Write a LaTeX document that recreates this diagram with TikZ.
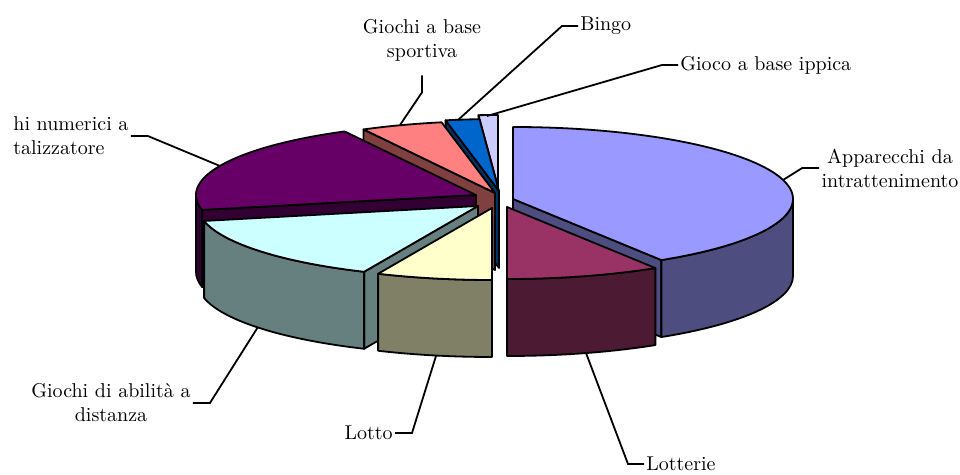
\documentclass[tikz,border=0pt]{standalone}
\usepackage{fontspec}
\usepackage{xcolor}
\definecolor{apptop}{HTML}{9999FF}
\definecolor{appside}{HTML}{4D4D80}
\definecolor{lotttop}{HTML}{993366}
\definecolor{lottside}{HTML}{4D1A33}
\definecolor{lottotop}{HTML}{FFFFCC}
\definecolor{lottoside}{HTML}{808066}
\definecolor{abiltop}{HTML}{CCFFFF}
\definecolor{abilside}{HTML}{668080}
\definecolor{numtop}{HTML}{660066}
\definecolor{numside}{HTML}{330033}
\definecolor{sporttop}{HTML}{FF8080}
\definecolor{sportside}{HTML}{804040}
\definecolor{bingotop}{HTML}{0066CC}
\definecolor{bingoside}{HTML}{003366}
\definecolor{ippicatop}{HTML}{CCCCFF}
\definecolor{ippicaside}{HTML}{666680}
% faces of a slice: centre x, centre y, angles, colour
\newcommand{\topface}[5]{%
  \filldraw[slice, fill=#5, shift={(#1,-#2)}] (0,0) -- (#3:280 and 72)
    arc[start angle=#3, end angle=#4, x radius=280, y radius=72] -- cycle;}
\newcommand{\rimface}[5]{%
  \filldraw[slice, fill=#5, shift={(#1,-#2)}] (#3:280 and 72)
    arc[start angle=#3, end angle=#4, x radius=280, y radius=72] -- ++(0,-77)
    arc[start angle=#4, end angle=#3, x radius=280, y radius=72] -- cycle;}
\newcommand{\cutface}[4]{%
  \filldraw[slice, fill=#4, shift={(#1,-#2)}] (0,0) -- (#3:280 and 72) -- ++(0,-77) -- (0,-77) -- cycle;}

\begin{document}
\begin{tikzpicture}[x=0.5pt, y=0.5pt,
    slice/.style={draw=black, line width=0.9pt, line join=round},
    lbl/.style={font=\fontsize{10}{12}\selectfont, inner sep=1pt, align=center},
    leader/.style={line width=0.9pt}]
			\useasboundingbox (0,0) rectangle (960,-475);
			% back slices
			\cutface{498}{187}{94}{ippicaside}
			\topface{498}{187}{90}{94}{ippicatop}
			\cutface{499}{191}{101}{bingoside}
			\topface{499}{191}{94}{101}{bingotop}
			\cutface{495}{193}{118}{sportside}
			\topface{495}{193}{101}{118}{sporttop}
			\cutface{476}{195}{192}{numside}
			\rimface{476}{195}{180}{192}{numside}
			\topface{476}{195}{118}{192}{numtop}
			% front slices
			\cutface{478}{206}{246}{abilside}
			\rimface{478}{206}{192}{246}{abilside}
			\topface{478}{206}{192}{246}{abiltop}
			\rimface{492}{208}{246}{270}{lottoside}
			\topface{492}{208}{246}{270}{lottotop}
			\cutface{513}{199}{-58}{appside}
			\rimface{513}{199}{-58}{0}{appside}
			\topface{513}{199}{-58}{90}{apptop}
			\rimface{507}{207}{-90}{-58}{lottside}
			\topface{507}{207}{-90}{-58}{lotttop}
			
			% points on the slices
			\coordinate (sportivaPt) at (400,-125);
			\coordinate (bingoPt) at (458,-120);
			\coordinate (ippicaPt) at (487,-116);
			\coordinate (apparecchiPt) at (783,-180);
			\coordinate (numericiPt) at (220,-166);
			\coordinate (abilitaPt) at (258,-327);
			\coordinate (lottoPt) at (436,-356);
			\coordinate (lotteriePt) at (586,-353);
			
			% labels
			\node[lbl] (sportiva) at (422,-40) {Giochi a base\\sportiva};
			\node[lbl, anchor=west] (bingo) at (578,-26) {Bingo};
			\node[lbl, anchor=west] (ippica) at (678,-65) {Gioco a base ippica};
			\node[lbl] (apparecchi) at (890,-168) {Apparecchi da\\intrattenimento};
			\node[lbl, anchor=west, align=left] (numerici) at (11,-136) {hi numerici a\\talizzatore};
			\node[lbl] (abilita) at (111,-403) {Giochi di abilità a\\distanza};
			\node[lbl, anchor=east] (lotto) at (395,-433) {Lotto};
			\node[lbl, anchor=west] (lotterie) at (644,-464) {Lotterie};
			
			% leader lines
			\draw[leader] ([yshift=-6pt]sportiva.south) -- ++(0,-17) -- (sportivaPt);
			\draw[leader] (bingo.west) -- ++(-16,0) -- (bingoPt);
			\draw[leader] (ippica.west) -- ++(-16,0) -- (ippicaPt);
			\draw[leader] (apparecchi.west) -- ++(-17,0) -- (apparecchiPt);
			\draw[leader] (numerici.east) -- ++(17,0) -- (numericiPt);
			\draw[leader] (abilita.east) -- ++(17,0) -- (abilitaPt);
			\draw[leader] (lotto.east) -- ++(17,0) -- (lottoPt);
			\draw[leader] (lotterie.west) -- ++(-16,0) -- (lotteriePt);
		\end{tikzpicture}
\end{document}
